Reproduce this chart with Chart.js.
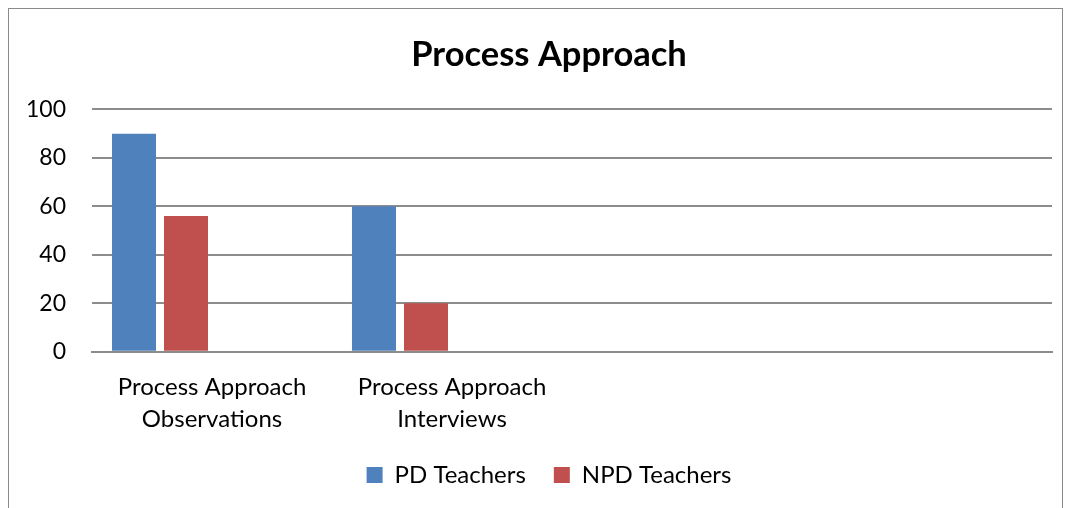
<!DOCTYPE html>
<html>
<head>
<meta charset="utf-8">
<script src="https://cdn.jsdelivr.net/npm/chart.js@4.4.0/dist/chart.umd.min.js"></script>
<style>
    body { margin: 0; background: #fff; }
    #wrap { position: relative; width: 1070px; height: 508px; }
    #frame { position: absolute; left: 8px; top: 8px; width: 1053px; height: 510px; border: 1px solid #8a8a8a; pointer-events: none; }
</style>
</head>
<body>
<div id="wrap">
    <canvas id="chart" width="1070" height="508"></canvas>
    <div id="frame"></div>
</div>
<script>
// categories (last two are empty slots in the original sheet)
const categories = [['Process Approach', 'Observations'], ['Process Approach', 'Interviews'], '', ''];

// series values
const pdTeachers  = [90, 60, null, null];
const npdTeachers = [56, 20, null, null];
// unused series columns that still reserve space in each group
const emptySeries3 = [null, null, null, null];
const emptySeries4 = [null, null, null, null];

const yTicks = [0, 20, 40, 60, 80, 100];

const font = 'Lato, "Open Sans", sans-serif';

// legend padding also sets the vertical size, so trim the box and lift its content;
// title and legend sit a bit right of the canvas centre in the original
const legendTrim = {
    id: 'legendTrim',
    beforeLayout(chart) {
        const lg = chart.legend;
        if (lg && !lg._trimmed) {
            const fit = lg.fit;
            lg.fit = function () {
                fit.call(this);
                this.height -= 19;
            };
            lg._trimmed = true;
        }
    },
    afterLayout(chart) {
        const lg = chart.legend;
        if (lg) {
            lg.top -= 20;
            lg.height += 20;
            lg.left += 46;
            lg.width -= 46;
        }
        const t = chart.titleBlock;
        if (t) {
            t.left += 46;
            t.width -= 46;
        }
    }
};

var ctx = document.getElementById('chart');
var myChart = new Chart(ctx, {
    type: 'bar',
    data: {
        labels: categories,
        datasets: [
            { label: 'PD Teachers', data: pdTeachers, backgroundColor: '#4F81BD' },
            { label: 'NPD Teachers', data: npdTeachers, backgroundColor: '#C0504D' },
            { label: '', data: emptySeries3, backgroundColor: '#9BBB59' },
            { label: '', data: emptySeries4, backgroundColor: '#8064A2' }
        ]
    },
    options: {
        responsive: false,
        animation: false,
        layout: { padding: { left: 0, right: 18, top: 0, bottom: 10 } },
        datasets: {
            bar: { categoryPercentage: 0.867, barPercentage: 0.846 }
        },
        plugins: {
            title: {
                display: true,
                text: 'Process Approach',
                color: '#000',
                font: { family: font, size: 34.5, weight: 'bold' },
                padding: { top: 34, bottom: 34 }
            },
            legend: {
                position: 'bottom',
                labels: {
                    filter: (item) => item.text !== '',
                    color: '#000',
                    font: { family: font, size: 24 },
                    boxWidth: 16,
                    boxHeight: 16,
                    padding: 28
                }
            },
            tooltip: { enabled: false }
        },
        scales: {
            x: {
                grid: { display: false, drawTicks: false },
                border: { display: true, color: '#8c8c8c', width: 2 },
                ticks: {
                    color: '#000',
                    font: { family: font, size: 24, lineHeight: 1.36 },
                    padding: 19,
                    maxRotation: 0
                }
            },
            y: {
                min: 0,
                max: 100,
                afterBuildTicks: (axis) => { axis.ticks = yTicks.map(v => ({ value: v })); },
                grid: { color: '#8c8c8c', lineWidth: 2, drawTicks: false },
                border: { display: false },
                ticks: {
                    color: '#000',
                    font: { family: font, size: 23 },
                    padding: 26
                }
            }
        }
    },
    plugins: [legendTrim]
});
</script>
</body>
</html>
